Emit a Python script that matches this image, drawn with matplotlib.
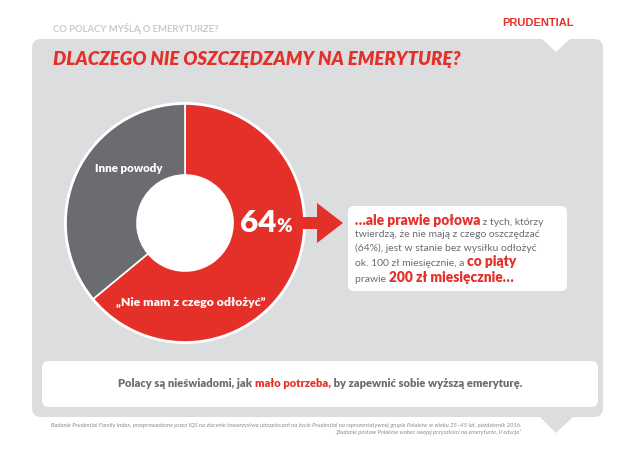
import matplotlib
matplotlib.use("Agg")
import matplotlib.pyplot as plt
from matplotlib.patches import FancyBboxPatch, Polygon, Circle, FancyArrow

# ─────────────────────────────────────────────
# DATA
# ─────────────────────────────────────────────
labels = ["„Nie mam z czego odłożyć”", "Inne powody"]
shares = [64, 36]

HEADER = "CO POLACY MYŚLĄ O EMERYTURZE?"
TITLE = "DLACZEGO NIE OSZCZĘDZAMY NA EMERYTURĘ?"
BRAND = "PRUDENTIAL"

# callout text as (text, is_red) runs per line
CALLOUT = [
    [("…ale prawie połowa", True), (" z tych, którzy", False)],
    [("twierdzą, że nie mają z czego oszczędzać", False)],
    [("(64%), jest w stanie bez wysiłku odłożyć", False)],
    [("ok. 100 zł miesięcznie, a ", False), ("co piąty", True)],
    [("prawie ", False), ("200 zł miesięcznie…", True)],
]
BOTTOM = [("Polacy są nieświadomi, jak ", False), ("mało potrzeba,", True),
          (" by zapewnić sobie wyższą emeryturę.", False)]
FOOTNOTE = [
    "Badanie Prudential Family Index, przeprowadzone przez IQS na zlecenie towarzystwa "
    "ubezpieczeń na życie Prudential na reprezentatywnej grupie Polaków w wieku 25–45 lat, "
    "październik 2016.",
    "„Badanie postaw Polaków wobec swojej przyszłości na emeryturze, II edycja”",
]

RED = "#E5302A"
DARK = "#6B6C70"
PANEL = "#DCDDDF"
LIGHT = "#C9CACC"
FONT = ["Lato", "DejaVu Sans"]

plt.rcParams["font.family"] = FONT

fig = plt.figure(figsize=(6.4, 4.57), dpi=100)
ax = fig.add_axes([0, 0, 1, 1])
renderer = fig.canvas.get_renderer()


def text_width(s, **kw):
    # pad with x so leading/trailing spaces are counted
    t1 = ax.text(0, 0, "x" + s + "x", **kw)
    t2 = ax.text(0, 0, "xx", **kw)
    w = t1.get_window_extent(renderer).width - t2.get_window_extent(renderer).width
    t1.remove()
    t2.remove()
    return w


def draw_runs(x, y, runs, align="left"):
    widths = [text_width(s, **kw) for s, kw in runs]
    if align == "center":
        x = x - sum(widths) / 2
    for (s, kw), w in zip(runs, widths):
        ax.text(x, y, s, va="baseline", ha="left", **kw)
        x += w


# background panel with notches
ax.add_patch(FancyBboxPatch((32, 39), 571, 378,
                            boxstyle="round,pad=0,rounding_size=9",
                            fc=PANEL, ec="none", zorder=0))
ax.add_patch(Polygon([(541, 38), (571, 38), (556, 52)], closed=True,
                     fc="white", ec="none", zorder=1))
ax.add_patch(Polygon([(539, 416), (574, 416), (556, 433)], closed=True,
                     fc=PANEL, ec="none", zorder=0))

# header texts
ax.text(53, 29, HEADER, color=LIGHT, fontsize=6.8, fontweight="bold",
        va="center", ha="left")
ax.text(53, 60, TITLE, color=RED, fontsize=13.4, fontweight="heavy",
        fontstyle="italic", va="center", ha="left")
ax.text(502, 23, BRAND, color=RED, fontsize=8.0, fontweight="bold",
        family=["Liberation Sans", "DejaVu Sans"], va="center", ha="left")

# donut
cx, cy, R, r_in = 185, 223, 119, 48
ax.add_patch(Circle((cx, cy), R + 2, fc="white", ec="none", zorder=1))
wedges, _ = ax.pie(shares, colors=[RED, DARK], startangle=-90, counterclock=True,
                   radius=R, center=(cx, cy), frame=True,
                   wedgeprops=dict(width=R - r_in, edgecolor="white", linewidth=1.2))
for w in wedges:
    w.set_zorder(2)
ax.add_patch(Circle((cx, cy), r_in, fc="white", ec="none", zorder=3))

ax.text(191, 302, labels[0], color="white", fontsize=8.8, fontweight="heavy",
        ha="center", va="center", zorder=4)
ax.text(129, 169, labels[1], color="white", fontsize=8.3, fontweight="heavy",
        ha="center", va="center", zorder=4)

# 64% label
big = dict(color="white", fontweight="heavy", zorder=4)
draw_runs(240, 232, [(f"{shares[0]}", dict(fontsize=22.5, **big)),
                     ("%", dict(fontsize=13.5, **big))])

# arrow
ax.add_patch(FancyArrow(294, 223, 49, 0, width=12, head_width=40, head_length=26,
                        length_includes_head=True, fc=RED, ec="none", zorder=3))

# callout box
ax.add_patch(FancyBboxPatch((348, 206), 219, 85,
                            boxstyle="round,pad=0,rounding_size=6",
                            fc="white", ec="none", zorder=2))
red_kw = dict(color=RED, fontsize=9.9, fontweight="heavy", zorder=4)
gray_kw = dict(color=DARK, fontsize=7.5, zorder=4)
for i, line in enumerate(CALLOUT):
    y = [225, 237, 251, 266, 282][i]
    draw_runs(355, y, [(s, red_kw if red else gray_kw) for s, red in line])

# bottom box
ax.add_patch(FancyBboxPatch((42, 361), 556, 46,
                            boxstyle="round,pad=0,rounding_size=7",
                            fc="white", ec="none", zorder=2))
bred = dict(color=RED, fontsize=8.0, fontweight="heavy", zorder=4)
bgray = dict(color=DARK, fontsize=8.0, fontweight="heavy", zorder=4)
draw_runs(320, 387, [(s, bred if red else bgray) for s, red in BOTTOM], align="center")

# footnote
ax.text(521, 425, FOOTNOTE[0], color="#8C8D90", fontsize=4.25, fontstyle="italic",
        ha="right", va="center")
ax.text(521, 432.5, FOOTNOTE[1], color="#8C8D90", fontsize=4.25, fontstyle="italic",
        ha="right", va="center")

ax.set_aspect("auto")
ax.set_xlim(0, 640)
ax.set_ylim(457, 0)
ax.axis("off")

fig.savefig("out.png", dpi=100, facecolor="white")
